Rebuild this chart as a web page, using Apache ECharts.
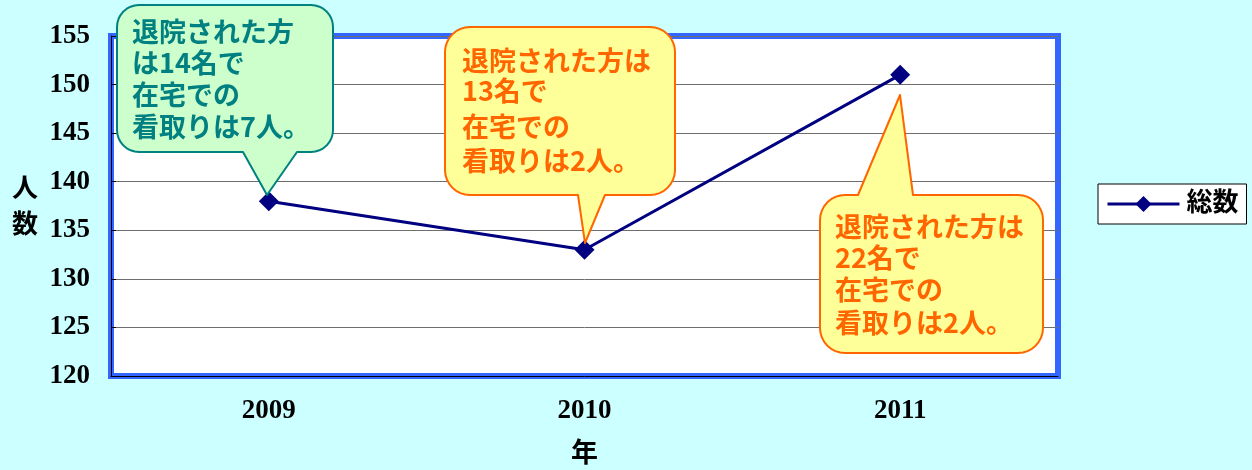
<!DOCTYPE html>
<html><head><meta charset="utf-8">
<script src="https://cdn.jsdelivr.net/npm/echarts@6/dist/echarts.min.js"></script>
<style>html,body{margin:0;padding:0;background:#CCFFFF;}#c{width:1252px;height:470px;}</style>
</head><body><div id="c"></div>
<script>
const categories = ['2009', '2010', '2011'];
const totals = [138, 133, 151];
const seriesName = '総数';
const yMin = 120, yMax = 155, yStep = 5;
const xAxisName = '年';
const yAxisName = '人\n数';
const note1 = ['退院された方', 'は14名で', '在宅での', '看取りは7人。'];
const note2 = ['退院された方は', '13名で', '在宅での', '看取りは2人。'];
const note3 = ['退院された方は', '22名で', '在宅での', '看取りは2人。'];

function calloutPoints(x0, y0, x1, y1, r, side, a, b, tx, ty) {
  const pts = [];
  function arc(cx, cy, s, e) {
    for (let i = 0; i <= 8; i++) {
      const t = (s + (e - s) * i / 8) * Math.PI / 180;
      pts.push([cx + r * Math.cos(t), cy + r * Math.sin(t)]);
    }
  }
  arc(x0 + r, y0 + r, 180, 270);
  if (side === 'top') { pts.push([a, y0], [tx, ty], [b, y0]); }
  arc(x1 - r, y0 + r, 270, 360);
  arc(x1 - r, y1 - r, 0, 90);
  if (side === 'bottom') { pts.push([b, y1], [tx, ty], [a, y1]); }
  arc(x0 + r, y1 - r, 90, 180);
  return pts;
}

function noteTexts(lines, x, ys, color) {
  return lines.map((s, i) => ({
    type: 'text', x: x, y: ys[i], z: 101,
    style: { text: s, fill: color, font: 'bold 27px "Noto Sans CJK JP"', textVerticalAlign: 'middle', textAlign: 'left' }
  }));
}

const green = { fill: '#CCFFCC', stroke: '#008080' };
const yellow = { fill: '#FFFF99', stroke: '#FF6600' };

const graphics = [
  { type: 'polygon', z: 100, shape: { points: calloutPoints(117, 5, 333, 152, 22, 'bottom', 243, 297, 267, 195) },
    style: { fill: green.fill, stroke: green.stroke, lineWidth: 2, lineJoin: 'round' } },
  ...noteTexts(note1, 132, [32, 63, 95, 127], '#008080'),
  { type: 'polygon', z: 100, shape: { points: calloutPoints(445, 27, 675, 195, 25, 'bottom', 578, 605, 585, 243) },
    style: { fill: yellow.fill, stroke: yellow.stroke, lineWidth: 2, lineJoin: 'round' } },
  ...noteTexts(note2, 462, [61, 91, 127, 161], '#FF6600'),
  { type: 'polygon', z: 100, shape: { points: calloutPoints(820, 195, 1043, 353, 25, 'top', 858, 913, 900, 95) },
    style: { fill: yellow.fill, stroke: yellow.stroke, lineWidth: 2, lineJoin: 'round' } },
  ...noteTexts(note3, 835, [227, 258, 290, 323], '#FF6600'),
  { type: 'text', x: 25, y: 205, style: { text: yAxisName, fill: '#000', font: 'bold 26px "Noto Sans CJK JP"', textAlign: 'center', textVerticalAlign: 'middle', lineHeight: 36 } }
];

const chart = echarts.init(document.getElementById('c'), null, { renderer: 'canvas' });
chart.setOption({
  backgroundColor: '#CCFFFF',
  animation: false,
  grid: { left: 111, right: 194, top: 36, bottom: 92, show: true, backgroundColor: '#FFFFFF', borderColor: '#3366FF', borderWidth: 6 },
  legend: {
    data: [seriesName], left: 1098, top: 184, orient: 'vertical',
    backgroundColor: '#FFFFFF', borderColor: '#000', borderWidth: 1, borderRadius: 0,
    padding: [7, 8, 7, 8], itemWidth: 72, itemHeight: 20, itemGap: 0,
    lineStyle: { width: 3 },
    textStyle: { fontSize: 26, fontWeight: 'bold', fontFamily: '"Liberation Serif", "Noto Sans CJK JP"', color: '#000', padding: [0, 0, 0, 2] }
  },
  xAxis: {
    type: 'category', data: categories, boundaryGap: true,
    name: xAxisName, nameLocation: 'middle', nameGap: 62,
    nameTextStyle: { fontSize: 27, fontWeight: 'bold', fontFamily: '"Noto Sans CJK JP"', color: '#000' },
    axisLine: { lineStyle: { color: '#000', width: 1 } },
    axisTick: { inside: true, length: 6, lineStyle: { color: '#000' } },
    axisLabel: { margin: 22, fontSize: 27, fontWeight: 'bold', fontFamily: '"Liberation Serif"', color: '#000' },
    splitLine: { show: false }
  },
  yAxis: {
    type: 'value', min: yMin, max: yMax, interval: yStep,
    axisLine: { show: true, lineStyle: { color: '#000', width: 1 } },
    axisTick: { show: true, inside: true, length: 5, lineStyle: { color: '#000' } },
    axisLabel: { margin: 21, fontSize: 27, fontWeight: 'bold', fontFamily: '"Liberation Serif"', color: '#000' },
    splitLine: { show: true, lineStyle: { color: '#6E6E6E', width: 1 } }
  },
  series: [{
    name: seriesName, type: 'line', data: totals,
    symbol: 'diamond', symbolSize: 20,
    lineStyle: { color: '#000080', width: 3 },
    itemStyle: { color: '#000080' },
    z: 5
  }],
  graphic: graphics
});
</script></body></html>
